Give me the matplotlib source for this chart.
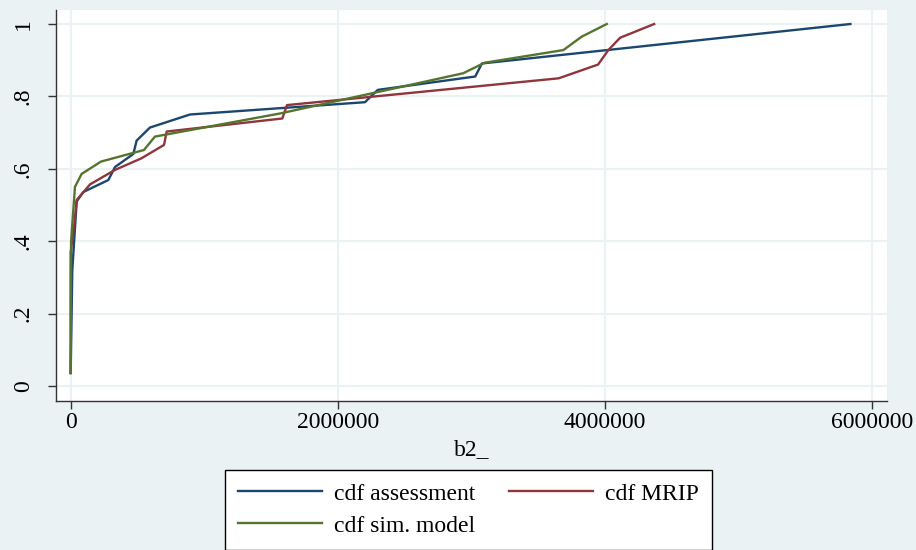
import matplotlib
matplotlib.use("Agg")
import matplotlib.pyplot as plt

plt.rcParams['font.family'] = ['Liberation Serif', 'DejaVu Serif']

# Empirical CDFs of b2_ for the three sources
assess_x = [0, 12000, 45000, 95000, 282000, 332000, 469000, 494000, 594000,
            893000, 2204000, 2300000, 3030000, 3080000, 5840000]
assess_y = [0.036, 0.32, 0.51, 0.536, 0.569, 0.605, 0.641, 0.678, 0.714,
            0.750, 0.784, 0.818, 0.855, 0.891, 1.0]

mrip_x = [0, 0, 25000, 45000, 145000, 332000, 530000, 699000, 719000,
          1585000, 1620000, 3655000, 3950000, 4027000, 4115000, 4370000]
mrip_y = [0.036, 0.37, 0.44, 0.514, 0.557, 0.597, 0.629, 0.666, 0.703,
          0.739, 0.776, 0.850, 0.888, 0.928, 0.962, 1.0]

sim_x = [0, 3000, 32000, 82000, 227000, 549000, 631000, 1570000, 2940000,
         3100000, 3690000, 3827000, 4015000]
sim_y = [0.036, 0.40, 0.55, 0.586, 0.62, 0.652, 0.689, 0.753, 0.864,
         0.893, 0.928, 0.965, 1.0]

x_ticks = [0, 2000000, 4000000, 6000000]
x_tick_labels = ["0", "2000000", "4000000", "6000000"]
y_ticks = [0, 0.2, 0.4, 0.6, 0.8, 1.0]
y_tick_labels = ["0", ".2", ".4", ".6", ".8", "1"]

bg = "#eaf2f3"
navy = "#1a476f"
maroon = "#90353b"
green = "#55752f"
axis_col = "#333333"

fig = plt.figure(figsize=(9.16, 5.5), dpi=100, facecolor=bg)
ax = fig.add_axes([56 / 916, (550 - 401) / 550, (887 - 56) / 916, (401 - 10) / 550])
ax.set_facecolor("white")

h_assess, = ax.plot(assess_x, assess_y, color=navy, lw=1.7, label="cdf assessment", zorder=3)
h_mrip, = ax.plot(mrip_x, mrip_y, color=maroon, lw=1.7, label="cdf MRIP", zorder=3)
h_sim, = ax.plot(sim_x, sim_y, color=green, lw=1.7, label="cdf sim. model", zorder=3)

ax.set_xlim(-110000, 6114000)
ax.set_ylim(-0.0414, 1.0387)

ax.set_xticks(x_ticks)
ax.set_xticklabels(x_tick_labels)
ax.set_yticks(y_ticks)
ax.set_yticklabels(y_tick_labels, rotation=90, va="center")

ax.grid(True, color=bg, lw=1.5, zorder=0)
ax.set_axisbelow(True)

for side in ("top", "right"):
    ax.spines[side].set_visible(False)
for side in ("left", "bottom"):
    ax.spines[side].set_color(axis_col)
    ax.spines[side].set_linewidth(1.0)

ax.tick_params(axis="both", direction="out", length=6, width=1.0,
               color=axis_col, labelsize=17, labelcolor="black")
ax.tick_params(axis="x", pad=2)
ax.tick_params(axis="y", pad=10)

ax.set_xlabel("b2_", fontsize=17, labelpad=4)

# legend filled row by row: assessment, MRIP / sim. model
handles = [h_assess, h_sim, h_mrip]
labels = [h.get_label() for h in handles]
leg = fig.legend(handles, labels, loc="upper left",
                 bbox_to_anchor=(225 / 916, 1 - 470 / 550),
                 ncol=2, fontsize=17, frameon=True, fancybox=False,
                 edgecolor="black", facecolor="white", framealpha=1,
                 handlelength=3.55, handletextpad=0.5, columnspacing=1.45,
                 borderpad=0.55, labelspacing=0.45, borderaxespad=0)
leg.get_frame().set_linewidth(1.0)

fig.savefig("out.png", dpi=100, facecolor=bg)
